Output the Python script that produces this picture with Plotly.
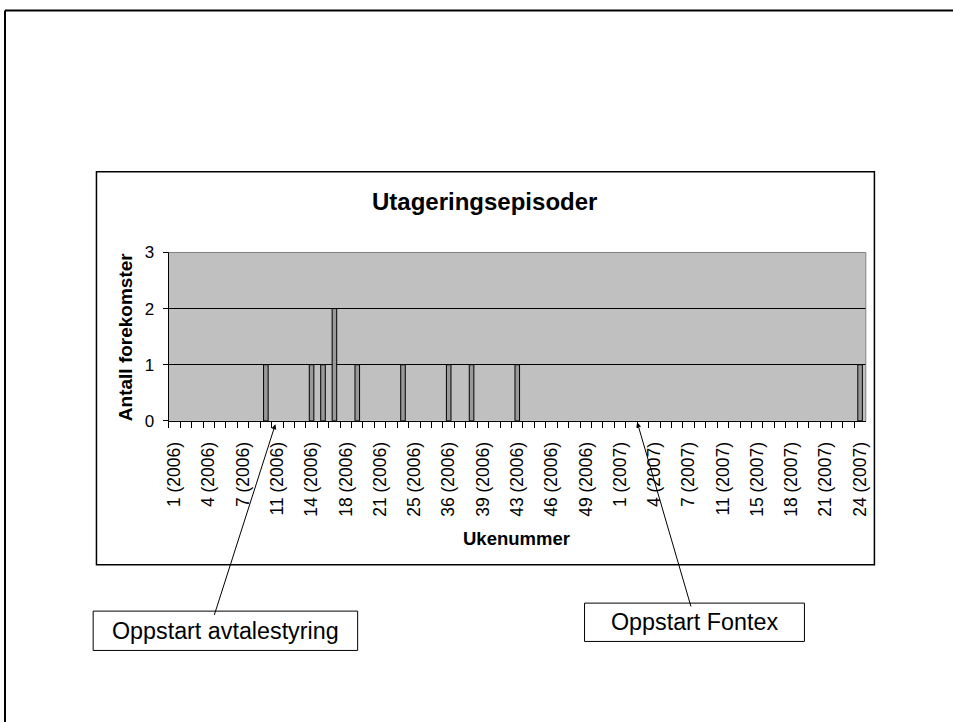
import plotly.graph_objects as go

# ---------------- data ----------------
categories = [
    "1 (2006)", "2 (2006)", "3 (2006)", "4 (2006)", "5 (2006)", "6 (2006)", "7 (2006)", "8 (2006)", "9 (2006)",
    "11 (2006)", "12 (2006)", "13 (2006)", "14 (2006)", "15 (2006)", "16 (2006)", "18 (2006)", "19 (2006)",
    "20 (2006)", "21 (2006)", "22 (2006)", "23 (2006)", "25 (2006)", "26 (2006)", "27 (2006)", "36 (2006)",
    "37 (2006)", "38 (2006)", "39 (2006)", "40 (2006)", "41 (2006)", "43 (2006)", "44 (2006)", "45 (2006)",
    "46 (2006)", "47 (2006)", "48 (2006)", "49 (2006)", "50 (2006)", "51 (2006)",
    "1 (2007)", "2 (2007)", "3 (2007)", "4 (2007)", "5 (2007)", "6 (2007)", "7 (2007)", "8 (2007)", "9 (2007)",
    "11 (2007)", "12 (2007)", "13 (2007)", "15 (2007)", "16 (2007)", "17 (2007)", "18 (2007)", "19 (2007)",
    "20 (2007)", "21 (2007)", "22 (2007)", "23 (2007)", "24 (2007)",
]
episodes = [
    0, 0, 0, 0, 0, 0, 0, 0, 1,
    0, 0, 0, 1, 1, 2, 0, 1,
    0, 0, 0, 1, 0, 0, 0, 1,
    0, 1, 0, 0, 0, 1, 0, 0,
    0, 0, 0, 0, 0, 0,
    0, 0, 0, 0, 0, 0, 0, 0, 0,
    0, 0, 0, 0, 0, 0, 0, 0,
    0, 0, 0, 0, 1,
]
tick_labels = [
    "1 (2006)", "4 (2006)", "7 (2006)", "11 (2006)", "14 (2006)", "18 (2006)", "21 (2006)",
    "25 (2006)", "36 (2006)", "39 (2006)", "43 (2006)", "46 (2006)", "49 (2006)", "1 (2007)",
    "4 (2007)", "7 (2007)", "11 (2007)", "15 (2007)", "18 (2007)", "21 (2007)", "24 (2007)",
]
y_ticks = [0, 1, 2, 3]

title = "Utageringsepisoder"
x_title = "Ukenummer"
y_title = "Antall forekomster"
note_1 = "Oppstart avtalestyring"
note_2 = "Oppstart Fontex"

# ---------------- layout helpers ----------------
W, H = 953, 722
FONT = "Arial, Liberation Sans, sans-serif"
# mapping from target picture pixels to page pixels
SX, BX = 0.991, 4.5
SY, BY = 0.973, 9.0


def gx(x):
    return (x - BX) / SX


def gy(y):
    return (y - BY) / SY


def px(x):
    return gx(x) / W


def py(y):
    return 1 - gy(y) / H


plot_l, plot_r, plot_t, plot_b = 168.3, 865.7, 252.3, 420.6

fig = go.Figure()
fig.add_trace(go.Bar(
    x=categories,
    y=episodes,
    width=0.4,
    marker=dict(color="#999999",
                line=dict(color="#000000", width=[1 if v else 0 for v in episodes])),
    hovertemplate="%{x}: %{y}<extra></extra>",
))

fig.update_layout(
    width=W,
    height=H,
    margin=dict(l=0, r=0, t=0, b=0),
    paper_bgcolor="white",
    plot_bgcolor="#C0C0C0",
    showlegend=False,
    font=dict(family=FONT, color="black"),
    xaxis=dict(
        domain=[px(plot_l), px(plot_r)],
        type="category",
        categoryorder="array",
        categoryarray=categories,
        tickmode="array",
        tickvals=categories,
        ticktext=[c if c in tick_labels else "" for c in categories],
        tickson="boundaries",
        ticks="outside",
        ticklen=6,
        tickcolor="black",
        tickwidth=1,
        tickangle=-90,
        tickfont=dict(size=17.5, family=FONT, color="black"),
        ticklabelstandoff=13,
        showline=True,
        linecolor="black",
        linewidth=1,
        showgrid=False,
        zeroline=False,
        range=[-0.5, len(categories) - 0.5],
        mirror=False,
    ),
    yaxis=dict(
        domain=[py(plot_b), py(plot_t)],
        range=[0, 3],
        tickmode="array",
        tickvals=y_ticks,
        ticks="outside",
        ticklen=5,
        tickcolor="black",
        tickfont=dict(size=17, family=FONT, color="black"),
        ticklabelstandoff=5,
        showline=True,
        linecolor="black",
        linewidth=1,
        showgrid=True,
        gridcolor="black",
        gridwidth=1,
        zeroline=False,
    ),
)

shapes = [
    # outer frame (top and left edges visible)
    dict(type="line", xref="paper", yref="paper", x0=px(4.5), x1=px(W + 40), y0=py(10.5), y1=py(10.5),
         line=dict(color="black", width=2)),
    dict(type="line", xref="paper", yref="paper", x0=px(4.5), x1=px(4.5), y0=py(10.5), y1=py(H + 40),
         line=dict(color="black", width=2)),
    # chart area border
    dict(type="rect", xref="paper", yref="paper", x0=px(96), x1=px(874.3), y0=py(171.7), y1=py(564.3),
         line=dict(color="black", width=1.5)),
    # plot area border (grey, top and right)
    dict(type="line", xref="paper", yref="paper", x0=px(plot_l), x1=px(plot_r), y0=py(plot_t), y1=py(plot_t),
         line=dict(color="#808080", width=1)),
    dict(type="line", xref="paper", yref="paper", x0=px(plot_r), x1=px(plot_r), y0=py(plot_t), y1=py(plot_b),
         line=dict(color="#808080", width=1)),
    # annotation boxes
    dict(type="rect", xref="paper", yref="paper", x0=px(92.7), x1=px(357.3), y0=py(610.7), y1=py(650),
         line=dict(color="black", width=1), fillcolor="white"),
    dict(type="rect", xref="paper", yref="paper", x0=px(584.3), x1=px(804.3), y0=py(602.7), y1=py(641),
         line=dict(color="black", width=1), fillcolor="white"),
]
fig.update_layout(shapes=shapes)

annotations = [
    dict(text=f"<b>{title}</b>", xref="paper", yref="paper", x=px(484), y=py(201), showarrow=False,
         font=dict(size=24, family=FONT, color="black"), xanchor="center", yanchor="middle"),
    dict(text=f"<b>{y_title}</b>", xref="paper", yref="paper", x=px(125), y=py(336.5), showarrow=False,
         textangle=-90, font=dict(size=19, family=FONT, color="black"), xanchor="center", yanchor="middle"),
    dict(text=f"<b>{x_title}</b>", xref="paper", yref="paper", x=px(516), y=py(538), showarrow=False,
         font=dict(size=18.5, family=FONT, color="black"), xanchor="center", yanchor="middle"),
    dict(text=note_1, xref="paper", yref="paper", x=px(225), y=py(630.5), showarrow=False,
         font=dict(size=23.3, family=FONT, color="black"), xanchor="center", yanchor="middle"),
    dict(text=note_2, xref="paper", yref="paper", x=px(694.3), y=py(622), showarrow=False,
         font=dict(size=23.3, family=FONT, color="black"), xanchor="center", yanchor="middle"),
    # arrows
    dict(text="", xref="paper", yref="paper", x=px(275), y=py(424), ax=gx(214) - gx(275), ay=gy(611) - gy(424),
         showarrow=True, arrowhead=2, arrowsize=1, arrowwidth=1, arrowcolor="black",
         standoff=0, startstandoff=0),
    dict(text="", xref="paper", yref="paper", x=px(637), y=py(422), ax=gx(690.7) - gx(637),
         ay=gy(602.7) - gy(422),
         showarrow=True, arrowhead=2, arrowsize=1, arrowwidth=1, arrowcolor="black",
         standoff=0, startstandoff=0),
]
fig.update_layout(annotations=annotations)

fig.write_html(
    "out.html",
    config={"displayModeBar": False},
    post_script="document.body.style.margin='0';document.body.style.padding='0';"
                "document.body.style.overflow='hidden';"
                "document.documentElement.style.overflow='hidden';",
)
